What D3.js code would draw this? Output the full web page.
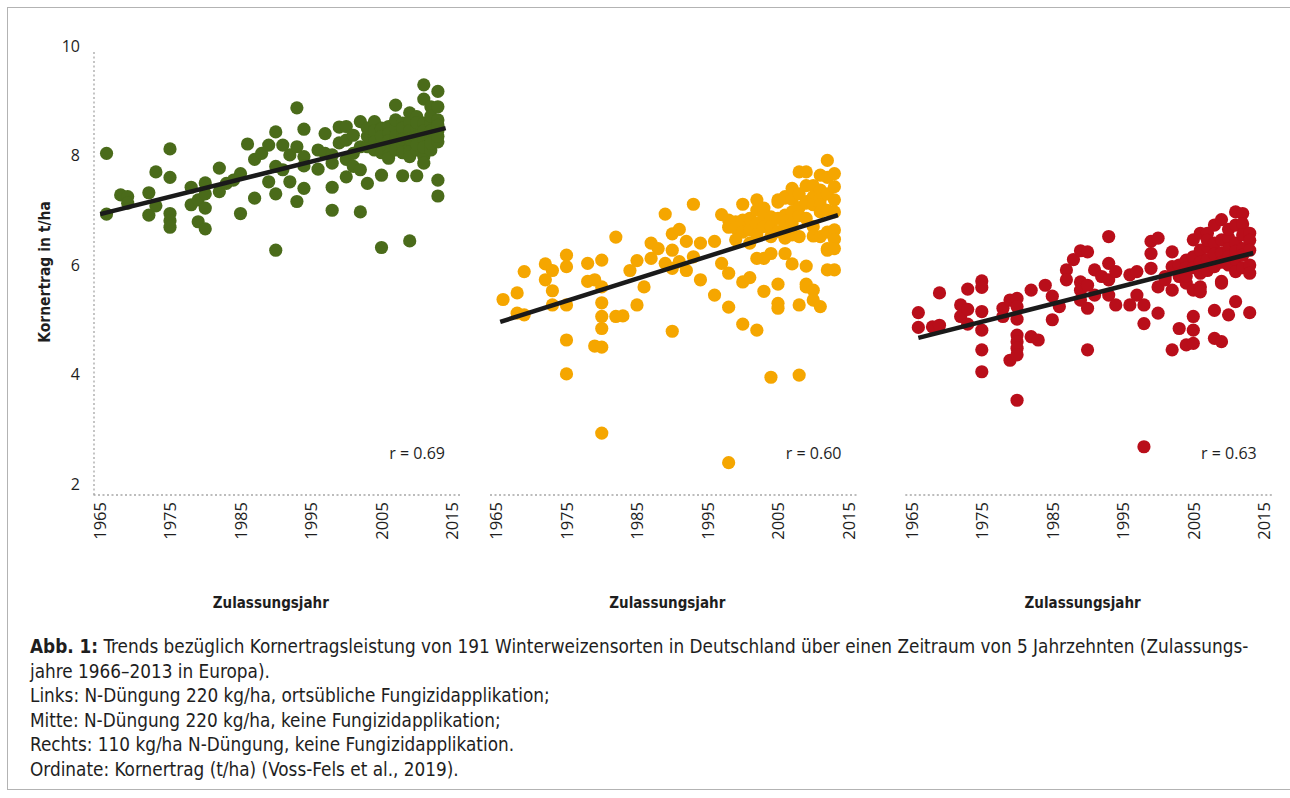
<!DOCTYPE html>
<html><head><meta charset="utf-8">
<script src="https://cdn.jsdelivr.net/npm/d3@7"></script>
<style>
body{margin:0;background:#fff;}
svg text{fill:#1e1e1e;}
.cond{font-family:"Liberation Sans Narrow","DejaVu Sans Condensed",sans-serif;}
.tick{font-family:"Open Sans","Noto Sans",sans-serif;}
</style></head><body>
<svg id="chart" width="1290" height="798"></svg>
<script>
const yTicks = [2, 4, 6, 8, 10];
const xTicks = [1965, 1975, 1985, 1995, 2005, 2015];
const xTitle = "Zulassungsjahr";
const yTitle = "Kornertrag in t/ha";
const rLabels = ["r = 0.69", "r = 0.60", "r = 0.63"];
const colors = ["#4a6b1a", "#f5a600", "#b90e1a"];

// Links: N-Düngung 220 kg/ha, ortsübliche Fungizidapplikation
const greenYears = [
1966,1966,1968,1969,1969,1972,1972,1973,1973,1975,1975,1975,1975,1975,
1978,1978,1979,1979,1980,1980,1980,1980,1982,1982,1983,1984,1985,1985,
1986,1987,1987,1988,1989,1989,1990,1990,1990,1990,1991,1991,1992,1992,
1993,1993,1993,1994,1994,1994,1994,1996,1996,1997,1997,1998,1998,1998,1998,
1999,1999,2000,2000,2000,2000,2001,2001,2001,2002,2002,2002,2002,2003,2003,2003,2003,
2004,2004,2004,2004,2004,2005,2005,2005,2005,2005,2005,2005,2006,2006,2006,2006,2006,2006,
2007,2007,2007,2007,2007,2007,2008,2008,2008,2008,2008,2008,2008,2009,2009,2009,2009,2009,2009,2009,2009,
2010,2010,2010,2010,2010,2010,2010,2011,2011,2011,2011,2011,2011,2011,2011,2012,2012,2012,2012,2012,2012,2012,
2013,2013,2013,2013,2013,2013,2013,2013,2013];
const greenYield = [
8.04,6.93,7.28,7.25,7.13,7.32,6.91,7.70,7.08,8.12,7.60,6.94,6.81,6.69,
7.42,7.10,7.19,6.79,7.50,7.30,7.04,6.66,7.77,7.34,7.49,7.55,7.67,6.94,
8.21,7.93,7.22,8.04,8.19,7.52,8.43,7.80,7.30,6.27,8.19,7.74,8.01,7.52,
8.87,8.16,7.16,8.48,7.98,7.81,7.40,8.10,7.75,8.40,8.04,8.01,7.86,7.42,7.00,
8.52,8.23,8.53,8.28,7.93,7.61,8.37,8.04,7.80,8.62,8.16,7.74,6.97,8.16,7.49,8.35,8.50,
8.62,8.34,8.10,8.45,8.25,8.50,8.48,8.20,8.35,8.05,7.64,6.32,8.53,8.40,8.16,8.01,7.95,8.27,
8.92,8.50,8.25,8.10,8.35,8.65,8.59,8.40,8.20,7.63,8.50,8.30,8.05,8.78,8.60,8.13,8.07,7.98,6.44,8.45,8.30,
8.71,8.50,8.34,8.10,7.63,8.20,8.60,9.29,9.03,8.59,8.30,7.98,7.86,8.45,8.15,8.89,8.59,8.34,8.10,8.72,8.45,8.22,
9.17,8.89,8.65,8.45,8.25,7.55,7.26,8.55,8.35];

// Mitte: N-Düngung 220 kg/ha, keine Fungizidapplikation
const orangeYears = [
1966,1968,1968,1969,1969,1972,1972,1973,1973,1973,1975,1975,1975,1975,1975,
1978,1978,1979,1979,1980,1980,1980,1980,1980,1980,1980,1982,1982,1983,1984,
1985,1985,1986,1987,1987,1988,1989,1989,1990,1990,1990,1990,1991,1991,
1992,1992,1993,1993,1994,1994,1996,1996,1997,1997,1998,1998,1998,1998,1998,
1999,1999,1999,2000,2000,2000,2000,2000,2001,2001,2001,2001,2002,2002,2002,2002,2002,2002,
2003,2003,2003,2003,2003,2004,2004,2004,2004,2004,2005,2005,2005,2005,2005,2005,2005,
2006,2006,2006,2006,2006,2006,2007,2007,2007,2007,2007,2007,2008,2008,2008,2008,2008,2008,2008,
2009,2009,2009,2009,2009,2009,2009,2009,2010,2010,2010,2010,2010,2010,2010,
2011,2011,2011,2011,2011,2011,2011,2012,2012,2012,2012,2012,2012,2012,2012,
2013,2013,2013,2013,2013,2013,2013,2013];
const orangeYield = [
5.37,5.49,5.12,5.88,5.09,6.02,5.73,5.90,5.53,5.27,6.18,5.97,5.27,4.63,4.01,
6.03,5.70,5.73,4.52,6.09,5.60,5.31,5.06,4.84,4.50,2.93,6.51,5.06,5.07,5.90,
6.08,5.27,5.60,6.40,6.12,6.30,6.93,6.03,6.57,6.27,5.94,4.79,6.65,6.06,
6.43,5.90,7.11,6.15,6.40,5.73,6.43,5.45,6.92,6.03,6.82,6.69,5.85,5.23,2.39,
6.79,6.67,6.46,7.11,6.82,6.60,5.69,4.92,6.64,6.40,6.85,5.77,7.19,7.00,6.76,6.55,6.12,4.81,
7.04,6.90,6.70,6.12,5.52,6.88,6.70,6.52,6.21,3.95,7.19,7.15,6.85,6.61,5.65,5.30,5.21,
7.25,7.22,6.91,6.70,6.49,6.21,7.40,7.20,6.97,6.76,6.55,6.02,7.70,7.30,7.05,6.90,6.52,5.27,3.99,
7.70,7.45,7.16,7.13,6.85,5.98,5.65,5.60,7.45,7.25,7.10,6.70,6.53,5.54,5.36,
7.64,7.37,7.20,7.10,6.97,6.52,5.24,7.91,7.60,7.30,7.00,6.60,6.30,6.27,5.91,
7.67,7.43,7.19,6.97,6.64,6.47,6.30,5.91];

// Rechts: 110 kg/ha N-Düngung, keine Fungizidapplikation
const redYears = [
1966,1966,1968,1969,1969,1972,1972,1973,1973,1973,1975,1975,1975,1975,1975,1975,
1978,1978,1979,1979,1980,1980,1980,1980,1980,1980,1980,1980,1982,1982,1983,1984,
1985,1985,1986,1987,1987,1988,1989,1989,1989,1989,1990,1990,1990,1990,1991,1991,
1992,1993,1993,1993,1993,1994,1994,1996,1996,1997,1997,1998,1998,1998,
1999,1999,1999,2000,2000,2000,2001,2001,2002,2002,2002,2002,2003,2003,2003,
2004,2004,2004,2004,2004,2005,2005,2005,2005,2005,2005,2005,2006,2006,2006,2006,2006,2006,
2007,2007,2007,2007,2007,2008,2008,2008,2008,2008,2008,2009,2009,2009,2009,2009,2009,2009,
2010,2010,2010,2010,2010,2010,2011,2011,2011,2011,2011,2011,2011,2012,2012,2012,2012,2012,2012,
2013,2013,2013,2013,2013,2013];
const redYield = [
5.13,4.86,4.87,5.49,4.90,5.27,5.06,5.56,5.19,4.92,5.71,5.59,5.15,4.81,4.45,4.05,
5.21,5.06,5.36,4.26,5.39,5.24,5.01,4.72,4.60,4.48,4.36,3.53,5.54,4.69,4.63,5.63,
5.43,5.00,5.24,5.91,5.73,6.10,6.26,5.69,5.54,5.36,6.24,5.63,5.21,4.45,5.91,5.45,
5.79,6.52,6.03,5.73,5.45,5.88,5.27,5.82,5.27,5.88,5.45,5.27,4.93,2.68,
6.43,6.21,5.94,6.49,5.60,5.12,5.79,5.73,6.24,5.97,5.54,4.45,5.79,6.00,4.84,
6.09,5.95,5.67,5.80,4.54,6.46,6.15,5.95,5.54,5.06,4.81,4.57,6.58,6.27,6.05,5.85,5.60,5.51,
6.58,6.33,6.10,5.90,6.45,6.73,6.40,6.20,5.97,5.17,4.66,6.83,6.46,6.22,6.05,5.70,5.67,4.60,
6.50,6.30,6.15,6.00,6.65,5.09,6.97,6.73,6.40,6.10,6.25,5.88,5.33,6.94,6.75,6.55,6.30,6.18,5.95,
6.58,6.45,6.27,6.00,5.85,5.13];

// trend lines: [year, yield] at both visible ends
const trendGreen = [[1965.1, 6.93], [2014.1, 8.50]];
const trendOrange = [[1965.6, 4.96], [2013.5, 6.91]];
const trendRed = [[1966.0, 4.67], [2013.5, 6.22]];

const captionLines = [
  ["Abb. 1:", " Trends bezüglich Kornertragsleistung von 191 Winterweizensorten in Deutschland über einen Zeitraum von 5 Jahrzehnten (Zulassungs-"],
  ["", "jahre 1966–2013 in Europa)."],
  ["", "Links: N-Düngung 220 kg/ha, ortsübliche Fungizidapplikation;"],
  ["", "Mitte: N-Düngung 220 kg/ha, keine Fungizidapplikation;"],
  ["", "Rechts: 110 kg/ha N-Düngung, keine Fungizidapplikation."],
  ["", "Ordinate: Kornertrag (t/ha) (Voss-Fels et al., 2019)."]
];

const panels = [
  {years: greenYears, yields: greenYield, trend: trendGreen, color: colors[0], r: rLabels[0], x0: 99.5},
  {years: orangeYears, yields: orangeYield, trend: trendOrange, color: colors[1], r: rLabels[1], x0: 496},
  {years: redYears, yields: redYield, trend: trendRed, color: colors[2], r: rLabels[2], x0: 911.3}
];

const svg = d3.select("#chart");

// frame
svg.append("rect").attr("x", 7.5).attr("y", 7.5).attr("width", 1290).attr("height", 782)
  .attr("fill", "none").attr("stroke", "#b3b3b3").attr("stroke-width", 1);

const y = d3.scaleLinear().domain([2, 10]).range([484, 46]);
const baseY = 495;
const dotted = "2,2.5";

// y axis (left panel only)
const yAxis = svg.append("g").attr("transform", "translate(80,0)")
  .call(d3.axisLeft(y).tickValues(yTicks).tickSize(0).tickPadding(0).tickFormat(d3.format("d")));
yAxis.select(".domain").remove();
yAxis.selectAll("text").attr("class", "tick").style("font-size", "16px").attr("fill", "#1e1e1e");
svg.append("line").attr("x1", 94).attr("x2", 94).attr("y1", 52).attr("y2", baseY)
  .attr("stroke", "#a6a6a6").attr("stroke-width", 1.3).attr("stroke-dasharray", dotted);

svg.append("text").attr("class", "cond")
  .attr("transform", "translate(45,272) rotate(-90)")
  .attr("text-anchor", "middle").attr("dominant-baseline", "middle")
  .style("font-size", "15.5px").style("font-weight", "bold").text(yTitle);

panels.forEach((p, i) => {
  const x = d3.scaleLinear().domain([1965, 2015]).range([p.x0, p.x0 + 352.5]);
  const g = svg.append("g");

  // baseline
  g.append("line").attr("x1", x(1965) - 6).attr("x2", x(2015) + 9).attr("y1", baseY).attr("y2", baseY)
    .attr("stroke", "#a6a6a6").attr("stroke-width", 1.3).attr("stroke-dasharray", dotted);

  // x axis labels (rotated)
  const xa = g.append("g").attr("transform", `translate(0,${baseY + 7})`)
    .call(d3.axisBottom(x).tickValues(xTicks).tickSize(0).tickFormat(d3.format("d")));
  xa.select(".domain").remove();
  xa.selectAll("text").attr("class", "tick").style("font-size", "16.5px")
    .attr("transform", "rotate(-90)").attr("text-anchor", "end")
    .attr("x", 0).attr("y", 0).attr("dy", "0.35em").attr("fill", "#1e1e1e");

  // x title
  g.append("text").attr("class", "cond").attr("x", x(1989.3)).attr("y", 603)
    .attr("text-anchor", "middle").attr("dominant-baseline", "middle")
    .style("font-size", "15px").style("font-weight", "bold").text(xTitle);

  // dots
  const data = p.years.map((yr, k) => ({yr, v: p.yields[k]}));
  g.selectAll("circle").data(data).join("circle")
    .attr("cx", d => x(d.yr)).attr("cy", d => y(d.v)).attr("r", 6.6).attr("fill", p.color);

  // trend
  g.append("line")
    .attr("x1", x(p.trend[0][0])).attr("y1", y(p.trend[0][1]))
    .attr("x2", x(p.trend[1][0])).attr("y2", y(p.trend[1][1]))
    .attr("stroke", "#1a1a1a").attr("stroke-width", 4.5);

  // r label
  g.append("text").attr("class", "tick").attr("x", x(2014)).attr("y", 455)
    .attr("text-anchor", "end").attr("dominant-baseline", "middle")
    .style("font-size", "16px").text(p.r);
});

// caption
const cap = svg.append("g").attr("class", "cond").style("font-size", "18.8px");
captionLines.forEach((ln, i) => {
  const t = cap.append("text").attr("x", 30).attr("y", 647 + i * 24.6).attr("dominant-baseline", "middle");
  if (ln[0]) t.append("tspan").style("font-weight", "bold").text(ln[0]);
  t.append("tspan").text(ln[1]);
});
</script>
</body></html>
